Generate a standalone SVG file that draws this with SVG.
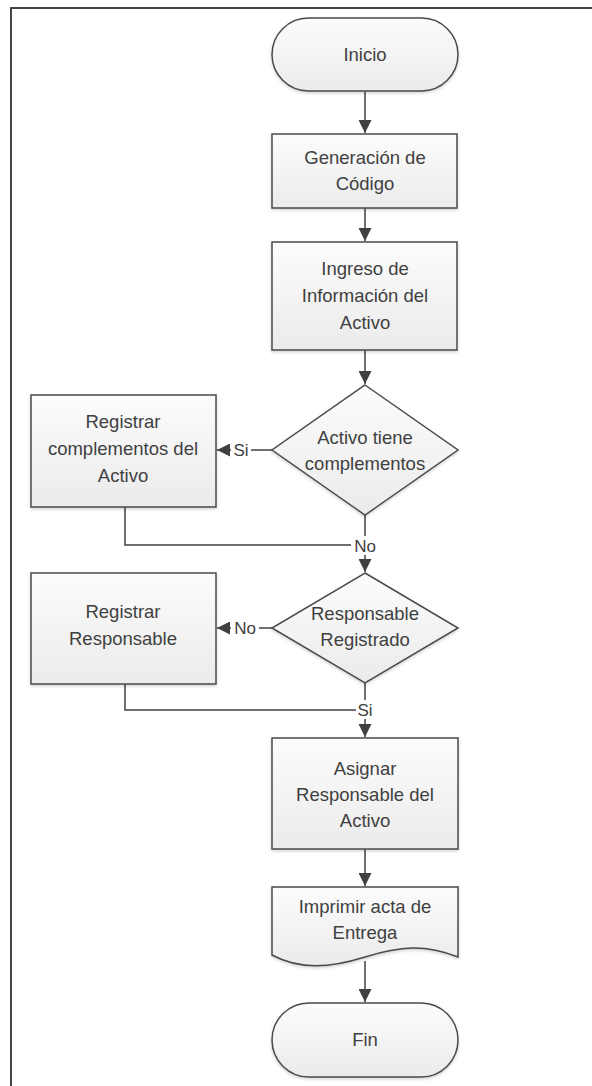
<svg xmlns="http://www.w3.org/2000/svg" width="592" height="1086" viewBox="0 0 592 1086">
<style>
.shape{fill:url(#g);stroke:#4a4a4a;stroke-width:1.5;filter:url(#sh)}
.t{font-family:"Liberation Sans",Arial,sans-serif;font-size:18.5px;fill:#404040;text-anchor:middle}
.lbl{font-family:"Liberation Sans",Arial,sans-serif;font-size:17px;fill:#404040;text-anchor:middle}
.c{fill:none;stroke:#404040;stroke-width:1.5}
</style>
<defs>
<linearGradient id="g" x1="0" y1="0" x2="0" y2="1">
<stop offset="0" stop-color="#fcfcfc"/>
<stop offset="1" stop-color="#ebebeb"/>
</linearGradient>
<filter id="sh" x="-10%" y="-10%" width="120%" height="130%">
<feDropShadow dx="0" dy="1.5" stdDeviation="1.5" flood-color="#000" flood-opacity="0.18"/>
</filter>
<marker id="ah" viewBox="0 0 13 13" refX="13" refY="6.5" markerWidth="13" markerHeight="13" markerUnits="userSpaceOnUse" orient="auto">
<path d="M0,0 L13,6.5 L0,13 Z" fill="#404040"/>
</marker>
</defs>
<rect width="592" height="1086" fill="#fff"/>
<path d="M11,1086 V8 H592" fill="none" stroke="#444" stroke-width="2"/>

<g id="connectors">
<path class="c" d="M365,92 V133" marker-end="url(#ah)"/>
<path class="c" d="M365,208 V241" marker-end="url(#ah)"/>
<path class="c" d="M365,350 V384" marker-end="url(#ah)"/>
<path class="c" d="M272,450 H217" marker-end="url(#ah)"/>
<path class="c" d="M365,515 V572" marker-end="url(#ah)"/>
<path class="c" d="M125,507 V545 H365"/>
<path class="c" d="M272,628 H217" marker-end="url(#ah)"/>
<path class="c" d="M365,683 V737" marker-end="url(#ah)"/>
<path class="c" d="M125,684 V710 H365"/>
<path class="c" d="M365,849 V886" marker-end="url(#ah)"/>
<path class="c" d="M365,961 V1002" marker-end="url(#ah)"/>
<rect x="231" y="440" width="20" height="20" fill="#fff"/>
<text class="lbl" x="241" y="456">Si</text>
<rect x="351" y="536" width="28" height="19" fill="#fff"/>
<text class="lbl" x="365" y="552">No</text>
<rect x="231" y="618" width="28" height="20" fill="#fff"/>
<text class="lbl" x="245" y="634">No</text>
<rect x="356" y="700" width="18" height="19" fill="#fff"/>
<text class="lbl" x="365" y="716">Si</text>
</g>

<g id="inicio">
<rect class="shape" x="272" y="18" width="186" height="73" rx="36.5" ry="36.5"/>
<text class="t" x="365" y="61">Inicio</text>
</g>
<g id="generacion">
<rect class="shape" x="272" y="134" width="185" height="74"/>
<text class="t" x="365" y="164">Generación de</text>
<text class="t" x="365" y="190">Código</text>
</g>
<g id="ingreso">
<rect class="shape" x="272" y="242" width="185" height="108"/>
<text class="t" x="365" y="275">Ingreso de</text>
<text class="t" x="365" y="302">Información del</text>
<text class="t" x="365" y="329">Activo</text>
</g>
<g id="decision1">
<polygon class="shape" points="365,385 458,450 365,515 272,450"/>
<text class="t" x="365" y="444">Activo tiene</text>
<text class="t" x="365" y="470">complementos</text>
</g>
<g id="registrar-complementos">
<rect class="shape" x="31" y="395" width="185" height="112"/>
<text class="t" x="123" y="428">Registrar</text>
<text class="t" x="123" y="455">complementos del</text>
<text class="t" x="123" y="482">Activo</text>
</g>
<g id="decision2">
<polygon class="shape" points="365,573 458,628 365,683 272,628"/>
<text class="t" x="365" y="620">Responsable</text>
<text class="t" x="365" y="646">Registrado</text>
</g>
<g id="registrar-responsable">
<rect class="shape" x="31" y="573" width="185" height="111"/>
<text class="t" x="123" y="618">Registrar</text>
<text class="t" x="123" y="645">Responsable</text>
</g>
<g id="asignar">
<rect class="shape" x="272" y="738" width="186" height="111"/>
<text class="t" x="365" y="775">Asignar</text>
<text class="t" x="365" y="801">Responsable del</text>
<text class="t" x="365" y="827">Activo</text>
</g>
<g id="imprimir">
<path class="shape" d="M272,887 H458 V957 C425,944 400,946 365,957 C330,968 300,970 272,955 Z"/>
<text class="t" x="365" y="913">Imprimir acta de</text>
<text class="t" x="365" y="939">Entrega</text>
</g>
<g id="fin">
<rect class="shape" x="272" y="1003" width="186" height="74" rx="37" ry="37"/>
<text class="t" x="365" y="1046">Fin</text>
</g>
</svg>
